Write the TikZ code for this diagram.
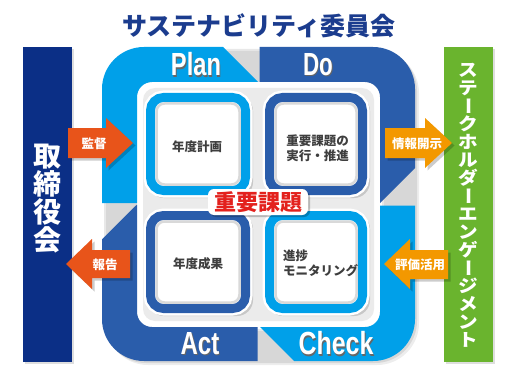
\documentclass[tikz,border=0pt]{standalone}
\usepackage{fontspec}
\setmainfont{Liberation Sans}
\newfontfamily\jp{Noto Sans CJK JP}
\definecolor{lblue}{HTML}{00A0E9}
\definecolor{dblue}{HTML}{2A5DAB}
\definecolor{navy}{HTML}{0B2F86}
\definecolor{titleblue}{HTML}{1B3C8E}
\definecolor{sgreen}{HTML}{6AB42E}
\definecolor{redorg}{HTML}{E8541A}
\definecolor{sorange}{HTML}{F39800}
\definecolor{kred}{HTML}{E3211D}
\definecolor{boxtext}{HTML}{3E3E3E}
\newcommand\shtext[1]{\makebox[0pt][l]{\kern1.2pt\raisebox{-1.2pt}{\color{black!60}#1}}#1}
\newcommand\longbar{\rotatebox[origin=c]{-90}{\vphantom{国}ー}}
\def\ringpath{[rounded corners=42pt] (102,47) rectangle (415,361) [rounded corners=15pt] (137,82) rectangle (380,327)}
\begin{document}
\begin{tikzpicture}[x=1pt,y=-1pt,
  jpb/.style={font=\jp\bfseries\fontsize{#1}{#1}\selectfont, inner sep=0pt},
  jpb/.default=12.5,
  pdca/.style={text=white, inner sep=0pt, font=\bfseries\fontsize{32}{32}\selectfont},
  boxlabel/.style={jpb=12.5, text=boxtext, align=center},
  arrowlabel/.style={jpb=12.5, text=white},
]
\useasboundingbox (0,0) rectangle (516,377);
\fill[white] (0,0) rectangle (516,377);

% title
\node[jpb=25, text=titleblue] (title) at (258.5,26) {サステナビリティ委員会};

% side bars
\fill[black, opacity=0.13] (25,49) rectangle (74,364);
\fill[navy] (23,47) rectangle (72,362);
\node[text=white, align=center, inner sep=0pt, font=\jp\bfseries\fontsize{28}{28}\selectfont] (board) at (47.5,199) {取\\締\\役\\会};

\fill[black, opacity=0.13] (446,49) rectangle (495,364);
\fill[sgreen] (444,47) rectangle (493,362);
\node[text=white, inner sep=0pt, font=\jp\bfseries\fontsize{17.5}{18}\selectfont] (stake) at (468.5,205)
  {\scalebox{1.12}[1]{\vbox{\hsize=26pt\parindent=0pt\baselineskip=18pt\lineskiplimit=-100pt\lineskip=0pt\centering
  ス\par テ\par \longbar\par ク\par ホ\par ル\par ダ\par \longbar\par エ\par ン\par ゲ\par \longbar\par ジ\par メ\par ン\par ト\par}}};

% ring shadow
\fill[even odd rule, black, opacity=0.09, shift={(2,2)}] \ringpath;
\fill[even odd rule, black, opacity=0.07, shift={(4,4)}] \ringpath;
% inner area
\fill[white, rounded corners=15pt] (137,82) rectangle (380,327);
\fill[black!8, rounded corners=12pt] (143,88) rectangle (374,321);

% ring segments
\begin{scope}
  \clip (0,0) -- (176,0) -- (258,82) -- (258,203) -- (0,203) -- cycle;
  \fill[even odd rule, lblue] \ringpath;
\end{scope}
\begin{scope}
  \clip (259.5,0) -- (516,0) -- (516,67) -- (380,203) -- (259.5,203) -- cycle;
  \fill[even odd rule, dblue] \ringpath;
\end{scope}
\begin{scope}
  \clip (260,205.5) -- (516,205.5) -- (516,377) -- (310,377) -- (260,327) -- cycle;
  \fill[even odd rule, lblue] \ringpath;
\end{scope}
\begin{scope}
  \clip (0,341) -- (137,204.5) -- (257.5,204.5) -- (257.5,377) -- (0,377) -- cycle;
  \fill[even odd rule, dblue] \ringpath;
\end{scope}

% PDCA labels
\node[pdca] (plan) at (196,65) {\scalebox{0.74}[1]{\shtext{Plan}}};
\node[pdca] (do) at (318,65) {\scalebox{0.70}[1]{\shtext{Do}}};
\node[pdca] (act) at (200,344) {\scalebox{0.75}[1]{\shtext{Act}}};
\node[pdca] (check) at (336,344) {\scalebox{0.78}[1]{\shtext{Check}}};

% four boxes
\foreach \xa/\ya/\xb/\yb/\col in {146/93/250/195/lblue, 265/93/367/195/dblue, 146/211/250/313/dblue, 265/211/367/313/lblue}{
  \fill[black, opacity=0.15, rounded corners=16pt] (\xa+2,\ya+2) rectangle (\xb+3,\yb+3);
  \draw[white, line width=14pt, rounded corners=13pt] (\xa+4.5,\ya+4.5) rectangle (\xb-4.5,\yb-4.5);
  \draw[\col, line width=9pt, fill=white, rounded corners=13pt] (\xa+4.5,\ya+4.5) rectangle (\xb-4.5,\yb-4.5);
  \draw[black!15, line width=2.5pt, rounded corners=8pt] (\xa+10.5,\ya+10.5) rectangle (\xb-10.5,\yb-10.5);
}
\node[boxlabel] (p) at (197,147) {年度計画};
\node[boxlabel, font=\jp\bfseries\fontsize{12.5}{15}\selectfont] (d) at (317.5,148) {重要課題の\\実行・推進};
\node[boxlabel] (a) at (198,264) {年度成果};
\node[boxlabel, align=left, anchor=west, font=\jp\bfseries\fontsize{12.5}{15}\selectfont] (c) at (283,263) {進捗\\モニタリング};

% central label
\fill[black, opacity=0.22, rounded corners=6pt] (210,191) rectangle (310,217);
\node[jpb=22, text=kred, fill=white, rounded corners=6pt, minimum width=100pt, minimum height=26pt] (kadai) at (258,202) {重要課題};

% arrows
\fill[black, opacity=0.2, shift={(2.5,2.5)}] (68,128) -- (106,128) -- (106,118) -- (133,143) -- (106,168) -- (106,158) -- (68,158) -- cycle;
\fill[redorg] (68,128) -- (106,128) -- (106,118) -- (133,143) -- (106,168) -- (106,158) -- (68,158) -- cycle;
\node[arrowlabel] (kansa) at (94,144) {監督};

\fill[black, opacity=0.2, shift={(2.5,2.5)}] (66,264) -- (92,239) -- (92,250) -- (130,250) -- (130,278) -- (92,278) -- (92,289) -- cycle;
\fill[redorg] (66,264) -- (92,239) -- (92,250) -- (130,250) -- (130,278) -- (92,278) -- (92,289) -- cycle;
\node[arrowlabel] (houkoku) at (105,264.5) {報告};

\fill[black, opacity=0.2, shift={(2.5,2.5)}] (385,128) -- (425,128) -- (425,118) -- (452,143) -- (425,168) -- (425,158) -- (385,158) -- cycle;
\fill[sorange] (385,128) -- (425,128) -- (425,118) -- (452,143) -- (425,168) -- (425,158) -- (385,158) -- cycle;
\node[arrowlabel] (kaiji) at (417,144) {情報開示};

\fill[black, opacity=0.2, shift={(2.5,2.5)}] (384,264) -- (410,239) -- (410,250) -- (448,250) -- (448,279) -- (410,279) -- (410,289) -- cycle;
\fill[sorange] (384,264) -- (410,239) -- (410,250) -- (448,250) -- (448,279) -- (410,279) -- (410,289) -- cycle;
\node[arrowlabel] (katsuyou) at (420,265) {評価活用};
\end{tikzpicture}
\end{document}
